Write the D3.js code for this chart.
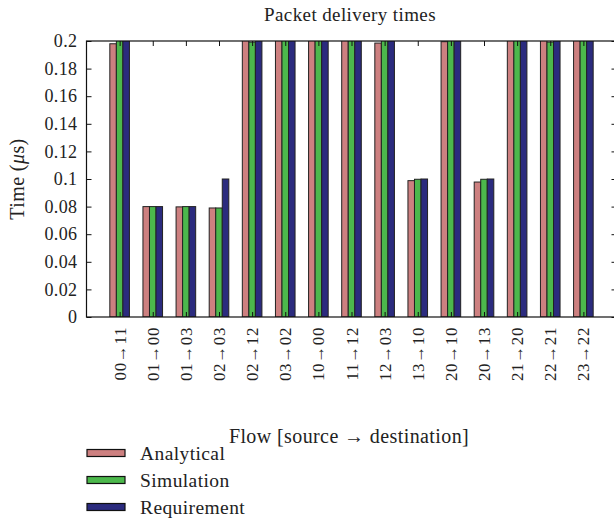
<!DOCTYPE html>
<html lang="en">
  <head>
    <meta charset="utf-8" />
    <script src="https://d3js.org/d3.v7.min.js"></script>
    <style>
      body { margin: 0; background: #fff; }
      text { font-family: "Liberation Serif", "DejaVu Serif", serif; fill: #222; }
    </style>
  </head>
  <body>
    <script type="text/javascript">

      // data (values above 0.2 run off the top of the plot)
      var flows = ["00\u219211", "01\u219200", "01\u219203", "02\u219203", "02\u219212",
                   "03\u219202", "10\u219200", "11\u219212", "12\u219203", "13\u219210",
                   "20\u219210", "20\u219213", "21\u219220", "22\u219221", "23\u219222"];
      var series = ["Analytical", "Simulation", "Requirement"];
      var analytical  = [0.198, 0.080, 0.0798, 0.079, 0.21, 0.21, 0.21, 0.21, 0.1985, 0.0988, 0.1995, 0.0978, 0.21, 0.21, 0.21];
      var simulation  = [0.21, 0.080, 0.080, 0.079, 0.1992, 0.21, 0.21, 0.21, 0.21, 0.0998, 0.21, 0.0998, 0.21, 0.1992, 0.21];
      var requirement = [0.21, 0.080, 0.080, 0.100, 0.21, 0.21, 0.21, 0.21, 0.21, 0.100, 0.21, 0.100, 0.21, 0.21, 0.21];
      var yTicks = [0, 0.02, 0.04, 0.06, 0.08, 0.1, 0.12, 0.14, 0.16, 0.18, 0.2];
      var colors = ["#cd8080", "#4cb84c", "#2b2b7e"];

      // svg sizes
      var w = 614;
      var h = 519;
      var plotLeft = 86.5;
      var plotRight = 616.5;
      var plotTop = 41;
      var plotBottom = 317;

      var svg = d3.select("body")
                  .append("svg")
                  .attr("width", w)
                  .attr("height", h);

      // scales
      var xScale = d3.scalePoint()
                     .domain(flows)
                     .range([plotLeft, plotRight])
                     .padding(1);
      var xInner = d3.scaleBand()
                     .domain(series)
                     .range([-9.8, 9.8]);
      var yScale = d3.scaleLinear()
                     .domain([0, 0.2])
                     .range([plotBottom, plotTop]);
      var color = d3.scaleOrdinal()
                    .domain(series)
                    .range(colors);

      // table for bars
      var allValues = [analytical, simulation, requirement];
      var rows = [];
      flows.forEach(function(f, i) {
        series.forEach(function(s, j) {
          rows.push({flow: f, series: s, value: allValues[j][i]});
        });
      });

      // clip bars to plot area
      svg.append("clipPath")
         .attr("id", "plotclip")
         .append("rect")
         .attr("x", plotLeft)
         .attr("y", plotTop)
         .attr("width", plotRight - plotLeft)
         .attr("height", plotBottom - plotTop);

      // bars
      svg.append("g")
         .attr("clip-path", "url(#plotclip)")
         .selectAll("rect")
         .data(rows)
         .enter()
         .append("rect")
         .attr("x", function(d) { return xScale(d.flow) + xInner(d.series); })
         .attr("width", xInner.bandwidth())
         .attr("y", function(d) { return yScale(d.value); })
         .attr("height", function(d) { return plotBottom - yScale(d.value); })
         .attr("fill", function(d) { return color(d.series); })
         .attr("stroke", "#222")
         .attr("stroke-width", 1);

      // inward ticks on all sides
      var yLeft = d3.axisLeft(yScale).tickValues(yTicks).tickSizeInner(-5).tickSizeOuter(0)
                    .tickPadding(9).tickFormat(function(d) { return String(d); });
      var yRight = d3.axisRight(yScale).tickValues(yTicks).tickSizeInner(-5).tickSizeOuter(0)
                     .tickFormat("");
      var xTop = d3.axisTop(xScale).tickSizeInner(-5).tickSizeOuter(0).tickFormat("");
      var xBottom = d3.axisBottom(xScale).tickSizeInner(-5).tickSizeOuter(0).tickFormat("");

      var gl = svg.append("g")
                  .attr("transform", "translate(" + plotLeft + ",0)")
                  .call(yLeft);
      gl.selectAll("text")
        .style("font-size", "18px")
        .style("letter-spacing", "0.4px")
        .style("font-family", "'Liberation Serif', serif")
        .attr("fill", "#222");
      svg.append("g")
         .attr("transform", "translate(" + plotRight + ",0)")
         .call(yRight);
      svg.append("g")
         .attr("transform", "translate(0," + plotTop + ")")
         .call(xTop);
      svg.append("g")
         .attr("transform", "translate(0," + plotBottom + ")")
         .call(xBottom);

      // frame
      svg.append("rect")
         .attr("x", plotLeft)
         .attr("y", plotTop)
         .attr("width", plotRight - plotLeft)
         .attr("height", plotBottom - plotTop)
         .attr("fill", "none")
         .attr("stroke", "#111")
         .attr("stroke-width", 1.2);
      svg.selectAll(".domain").remove();
      svg.selectAll(".tick line").attr("stroke", "#111");

      // rotated flow labels
      svg.append("g")
         .selectAll("text")
         .data(flows)
         .enter()
         .append("text")
         .attr("transform", function(d) {
           return "translate(" + (xScale(d) + 6) + "," + (plotBottom + 10) + ") rotate(-90)";
         })
         .style("text-anchor", "end")
         .style("font-size", "17px")
         .style("letter-spacing", "0.6px")
         .text(function(d) { return d; });

      // title
      svg.append("text")
         .attr("x", 350)
         .attr("y", 21)
         .style("text-anchor", "middle")
         .style("font-size", "19px")
         .style("letter-spacing", "0.4px")
         .text("Packet delivery times");

      // x label
      svg.append("text")
         .attr("x", 349)
         .attr("y", 443)
         .style("text-anchor", "middle")
         .style("font-size", "20px")
         .style("letter-spacing", "0.4px")
         .text("Flow [source \u2192 destination]");

      // y label
      var yl = svg.append("text")
                  .attr("transform", "translate(24," + ((plotTop + plotBottom) / 2) + ") rotate(-90)")
                  .style("text-anchor", "middle")
                  .style("font-size", "20px")
                  .style("letter-spacing", "0.4px");
      yl.append("tspan").text("Time (");
      yl.append("tspan").style("font-style", "italic").text("\u03bc");
      yl.append("tspan").text("s)");

      // legend
      var legend = svg.append("g")
                      .selectAll("g")
                      .data(series)
                      .enter()
                      .append("g")
                      .attr("transform", function(d, i) {
                        return "translate(87," + (453 + i * 27) + ")";
                      });
      legend.append("rect")
            .attr("x", 0)
            .attr("y", -3.5)
            .attr("width", 38)
            .attr("height", 7)
            .attr("fill", function(d) { return color(d); })
            .attr("stroke", "#111")
            .attr("stroke-width", 1.2);
      legend.append("text")
            .attr("x", 53)
            .attr("y", 6.5)
            .style("font-size", "19.5px")
            .style("letter-spacing", "0.4px")
            .text(function(d) { return d; });

    </script>
  </body>
</html>
